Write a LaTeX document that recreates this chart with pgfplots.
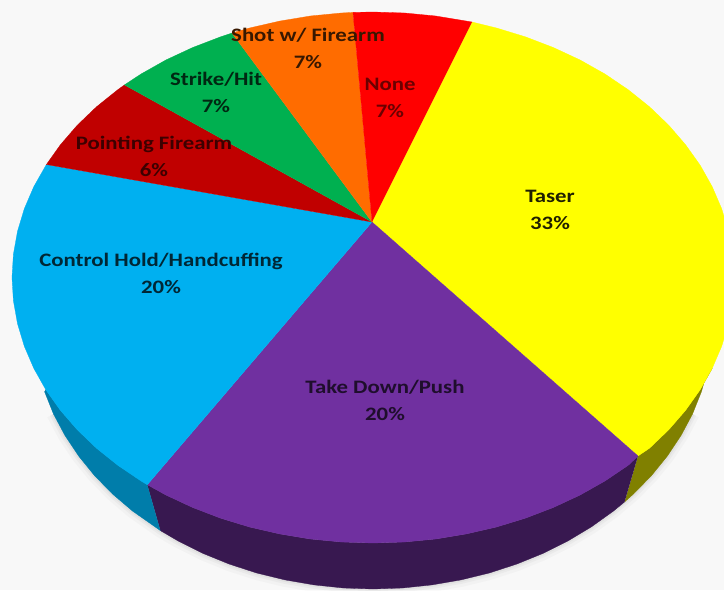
\documentclass[border=0pt]{standalone}
\usepackage{pgfplots}
\usepackage{pgfplotstable}
\usepackage{fontspec}
\setmainfont[FakeStretch=1.2]{Carlito}
\pgfplotsset{compat=1.18}
\tikzset{lbl/.style={font=\fontsize{19}{27}\selectfont\bfseries, align=center, inner sep=0pt}}

\definecolor{bg}{RGB}{248,248,248}
\definecolor{ctaser}{RGB}{255,255,0}
\definecolor{cpush}{RGB}{112,48,160}
\definecolor{chold}{RGB}{0,176,240}
\definecolor{cpoint}{RGB}{192,0,0}
\definecolor{cstrike}{RGB}{0,176,80}
\definecolor{cshot}{RGB}{255,108,0}
\definecolor{cnone}{RGB}{255,0,0}
\definecolor{staser}{RGB}{128,128,0}
\definecolor{spush}{RGB}{56,24,80}
\definecolor{shold}{RGB}{0,125,170}

% outlines in picture pixels, y downwards
\pgfplotstableread{
x y
0 0
724 0
724 590
0 590
}\backdrop

\pgfplotstableread{
x y
372 222
472 22
496.5 28
525.6 36.9
553.5 47.6
580.1 60
605.1 74.1
628.3 89.8
649.5 106.8
668.7 125.2
685.6 144.8
700.2 165.3
712.2 186.7
721.7 208.8
728.5 231.4
732.6 254.4
734 277.5
732.6 300.6
728.5 323.6
721.7 346.2
712.2 368.3
700.2 389.7
685.6 410.3
668.7 429.8
649.5 448.2
638 456
}\taser

\pgfplotstableread{
x y
372 222
638 456
628.3 465.2
605.1 480.9
580.1 495
553.5 507.4
525.6 518.1
496.5 527
466.4 533.9
435.7 539
404.5 542
373 543
341.5 542
310.3 539
279.6 533.9
249.5 527
220.4 518.1
192.5 507.4
165.9 495
147.3 484.7
}\takedown

\pgfplotstableread{
x y
372 222
147.3 484.7
140.9 480.9
117.7 465.2
96.5 448.2
77.3 429.8
60.4 410.3
45.8 389.7
33.8 368.3
24.3 346.2
17.5 323.6
13.4 300.6
12 277.5
13.4 254.4
17.5 231.4
24.3 208.8
33.8 186.7
46.4 164.5
}\control

\pgfplotstableread{
x y
372 222
46.4 164.5
60.4 144.8
77.3 125.2
96.5 106.8
117.7 89.8
124.5 84.9
}\pointing

\pgfplotstableread{
x y
372 222
124.5 84.9
140.9 74.1
165.9 60
192.5 47.6
220.4 36.9
232 33
}\strikehit

\pgfplotstableread{
x y
372 222
232 33
249.5 28
279.6 21.1
310.3 16
341.5 13
353 12.4
}\shotfirearm

\pgfplotstableread{
x y
372 222
353 12.4
373 12
404.5 13
435.7 16
472 22
}\noforce

\pgfplotstableread{
x y
638 456
649.5 448.2
668.7 429.8
685.6 410.3
700.2 389.7
712.2 368.3
707.8 369.2
701.4 391.8
692.5 414
681.1 435.4
667.4 456
651.5 475.6
633.5 494
624.5 502
}\sidetaser

\pgfplotstableread{
x y
638 456
628.3 465.2
605.1 480.9
580.1 495
553.5 507.4
525.6 518.1
496.5 527
466.4 533.9
435.7 539
404.5 542
373 543
341.5 542
310.3 539
279.6 533.9
249.5 527
220.4 518.1
192.5 507.4
165.9 495
147.3 484.7
160.4 530.6
178 540.9
203 553.4
229.3 564.1
256.7 573
285 579.9
314 584.9
343.4 588
373 589
402.6 588
432 584.9
461 579.9
489.3 573
516.7 564.1
543 553.4
568 540.9
591.5 526.8
613.4 511.1
624.5 502
}\sidepush

\pgfplotstableread{
x y
147.3 484.7
117.7 465.2
96.5 448.2
77.3 429.8
60.4 410.3
45.8 389.7
44.6 391.8
53.5 414
64.9 435.4
78.6 456
94.5 475.6
112.5 494
132.6 511.1
160.4 530.6
}\sidehold

% lower rim, used for the soft shadow
\pgfplotstableread{
x y
53.5 414
64.9 435.4
78.6 456
94.5 475.6
112.5 494
132.6 511.1
160.4 530.6
178 540.9
203 553.4
229.3 564.1
256.7 573
285 579.9
314 584.9
343.4 588
373 589
402.6 588
432 584.9
461 579.9
489.3 573
516.7 564.1
543 553.4
568 540.9
591.5 526.8
613.4 511.1
633.5 494
651.5 475.6
667.4 456
681.1 435.4
692.5 414
}\rim

\begin{document}
\begin{tikzpicture}
\begin{axis}[
  hide axis, scale only axis,
  width=724pt, height=590pt,
  xmin=0, xmax=724, ymin=0, ymax=590,
  y dir=reverse,
  clip=true,
]
\addplot[fill=bg, draw=none, forget plot] table[x=x,y=y] {\backdrop};

\addplot[draw=black!55, draw opacity=.04, line width=14pt] table[x=x,y=y] {\rim};
\addplot[draw=black!55, draw opacity=.06, line width=8pt] table[x=x,y=y] {\rim};
\addplot[draw=black!55, draw opacity=.08, line width=4pt] table[x=x,y=y] {\rim};

\addplot[fill=staser, draw=staser, line width=.3pt] table[x=x,y=y] {\sidetaser};
\addplot[fill=spush, draw=spush, line width=.3pt] table[x=x,y=y] {\sidepush};
\addplot[fill=shold, draw=shold, line width=.3pt] table[x=x,y=y] {\sidehold};

\addplot[fill=ctaser, draw=ctaser, line width=.3pt] table[x=x,y=y] {\taser};
\addplot[fill=cpush, draw=cpush, line width=.3pt] table[x=x,y=y] {\takedown};
\addplot[fill=chold, draw=chold, line width=.3pt] table[x=x,y=y] {\control};
\addplot[fill=cpoint, draw=cpoint, line width=.3pt] table[x=x,y=y] {\pointing};
\addplot[fill=cstrike, draw=cstrike, line width=.3pt] table[x=x,y=y] {\strikehit};
\addplot[fill=cshot, draw=cshot, line width=.3pt] table[x=x,y=y] {\shotfirearm};
\addplot[fill=cnone, draw=cnone, line width=.3pt] table[x=x,y=y] {\noforce};

\node[lbl, text=black!88!ctaser] at (axis cs:550,210) {Taser\\33\%};
\node[lbl, text=cpush!28!black] at (axis cs:385,400) {Take Down/Push\\20\%};
\node[lbl, text=chold!22!black] at (axis cs:161,273.5) {Control Hold/Handcuffing\\20\%};
\node[lbl, text=cpoint!32!black] at (axis cs:154,156.5) {Pointing Firearm\\6\%};
\node[lbl, text=cstrike!22!black] at (axis cs:216,92) {Strike/Hit\\7\%};
\node[lbl, text=cshot!22!black] at (axis cs:308,48) {Shot w/ Firearm\\7\%};
\node[lbl, text=cnone!42!black] at (axis cs:390,97.5) {None\\7\%};
\end{axis}
\end{tikzpicture}
\end{document}
